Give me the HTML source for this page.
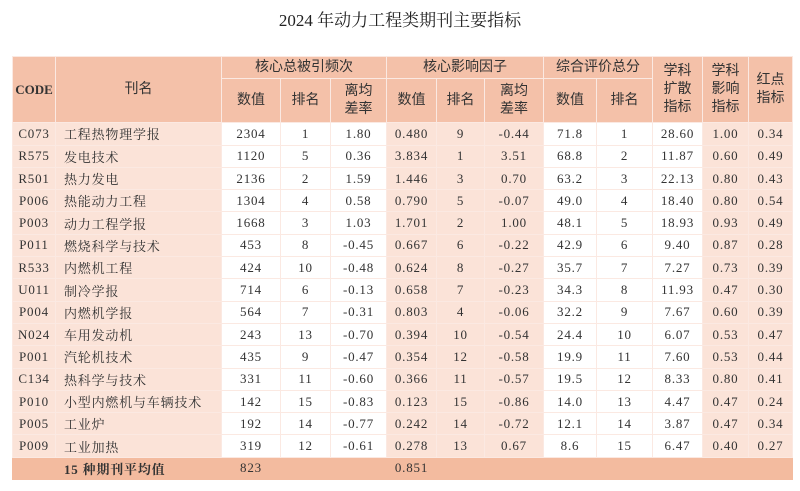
<!DOCTYPE html>
<html><head><meta charset="utf-8"><style>
body{margin:0;width:800px;height:491px;background:#fff;font-family:"Liberation Serif","Noto Serif CJK SC",serif;color:#333;}
h1{position:absolute;left:0;top:6px;width:800px;margin:0;text-align:center;font-size:17px;font-weight:normal;color:#222;}
table{position:absolute;left:12px;top:56px;border-collapse:collapse;table-layout:fixed;font-size:13px;}
td{border:1px solid #fbe9e2;text-align:center;padding:0;height:21.3px;white-space:nowrap;}
tbody td{letter-spacing:0.8px;}
thead td{background:#f4c1a9;font-family:"Liberation Serif","Noto Sans CJK SC",sans-serif;font-size:14px;line-height:18px;}
thead td.code{font-weight:bold;font-size:13px;}
.p{background:#fbe3d8;}
.w{background:#fff;}
.name{text-align:left;padding-left:8px;}
.avg td{background:#f3bb9f;font-weight:bold;border-color:#f3bb9f;}
.avg td.n{font-weight:normal;}
</style></head><body>
<h1>2024 年动力工程类期刊主要指标</h1>
<table>
<colgroup><col style="width:43px"><col style="width:166px"><col style="width:59px"><col style="width:50px"><col style="width:56px"><col style="width:50px"><col style="width:48px"><col style="width:59px"><col style="width:53px"><col style="width:56px"><col style="width:50px"><col style="width:46px"><col style="width:44px"></colgroup>
<thead>
<tr style="height:22px"><td rowspan="2" class="code">CODE</td><td rowspan="2">刊名</td><td colspan="3">核心总被引频次</td><td colspan="3">核心影响因子</td><td colspan="2">综合评价总分</td><td rowspan="2">学科<br>扩散<br>指标</td><td rowspan="2">学科<br>影响<br>指标</td><td rowspan="2">红点<br>指标</td></tr>
<tr style="height:44px"><td>数值</td><td>排名</td><td>离均<br>差率</td><td>数值</td><td>排名</td><td>离均<br>差率</td><td>数值</td><td>排名</td></tr>
</thead>
<tbody id="tb"></tbody>
</table>
<script>
const codes=["C073","R575","R501","P006","P003","P011","R533","U011","P004","N024","P001","C134","P010","P005","P009"];
const names=["工程热物理学报","发电技术","热力发电","热能动力工程","动力工程学报","燃烧科学与技术","内燃机工程","制冷学报","内燃机学报","车用发动机","汽轮机技术","热科学与技术","小型内燃机与车辆技术","工业炉","工业加热"];
const citeVal=["2304","1120","2136","1304","1668","453","424","714","564","243","435","331","142","192","319"];
const citeRank=["1","5","2","4","3","8","10","6","7","13","9","11","15","14","12"];
const citeDev=["1.80","0.36","1.59","0.58","1.03","-0.45","-0.48","-0.13","-0.31","-0.70","-0.47","-0.60","-0.83","-0.77","-0.61"];
const ifVal=["0.480","3.834","1.446","0.790","1.701","0.667","0.624","0.658","0.803","0.394","0.354","0.366","0.123","0.242","0.278"];
const ifRank=["9","1","3","5","2","6","8","7","4","10","12","11","15","14","13"];
const ifDev=["-0.44","3.51","0.70","-0.07","1.00","-0.22","-0.27","-0.23","-0.06","-0.54","-0.58","-0.57","-0.86","-0.72","0.67"];
const score=["71.8","68.8","63.2","49.0","48.1","42.9","35.7","34.3","32.2","24.4","19.9","19.5","14.0","12.1","8.6"];
const scoreRank=["1","2","3","4","5","6","7","8","9","10","11","12","13","14","15"];
const diffusion=["28.60","11.87","22.13","18.40","18.93","9.40","7.27","11.93","7.67","6.07","7.60","8.33","4.47","3.87","6.47"];
const influence=["1.00","0.60","0.80","0.80","0.93","0.87","0.73","0.47","0.60","0.53","0.53","0.80","0.47","0.47","0.40"];
const redDot=["0.34","0.49","0.43","0.54","0.49","0.28","0.39","0.30","0.39","0.47","0.44","0.41","0.24","0.34","0.27"];
const tb=document.getElementById('tb');
const cls=["p","p name","w","w","w","p","p","p","w","w","w","p","p"];
const keys=["code","name","cite-value","cite-rank","cite-deviation","if-value","if-rank","if-deviation","score-value","score-rank","diffusion-index","influence-index","red-dot-index"];
for(let i=0;i<codes.length;i++){
  const tr=document.createElement('tr');
  
  
  const vals=[codes[i],names[i],citeVal[i],citeRank[i],citeDev[i],ifVal[i],ifRank[i],ifDev[i],score[i],scoreRank[i],diffusion[i],influence[i],redDot[i]];
  vals.forEach((v,j)=>{
    const td=document.createElement('td');
    td.className=cls[j];
    td.textContent=v;
    
    
    tr.appendChild(td);
  });
  tb.appendChild(tr);
}
const avg=document.createElement('tr');
avg.className='avg';


avg.innerHTML='<td></td><td class="name">15 种期刊平均值</td><td class="n">823</td><td></td><td></td><td class="n">0.851</td><td></td><td></td><td></td><td></td><td></td><td></td><td></td>';
tb.appendChild(avg);
</script>
</body></html>
